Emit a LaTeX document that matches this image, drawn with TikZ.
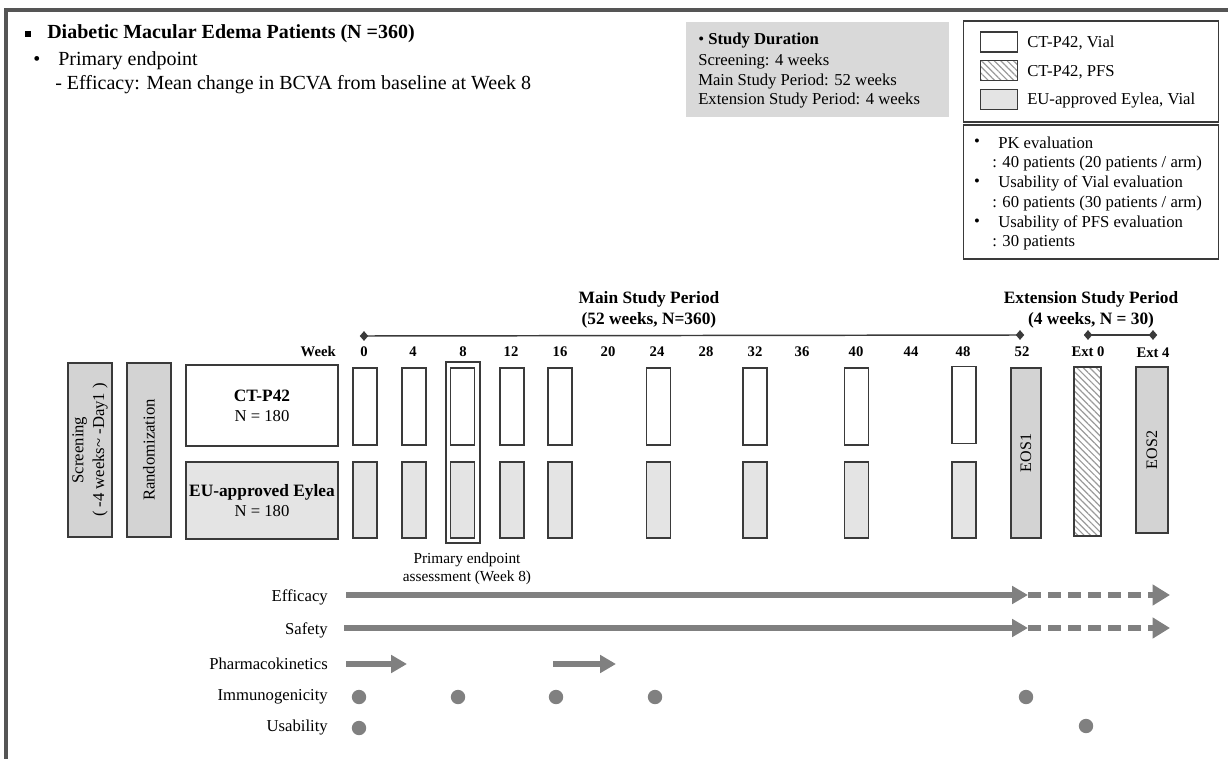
\documentclass[tikz,border=0pt]{standalone}
\usepackage{fontspec}
\setmainfont{Liberation Serif}
\usetikzlibrary{arrows.meta,patterns.meta,shapes.geometric}
\definecolor{framegray}{HTML}{555555}
\definecolor{boxline}{HTML}{3A3A3A}
\definecolor{darkfill}{HTML}{D3D3D3}
\definecolor{lightfill}{HTML}{E4E4E4}
\definecolor{durfill}{HTML}{D9D9D9}
\definecolor{arrowgray}{HTML}{808080}
\definecolor{hatchgray}{HTML}{9A9A9A}
\begin{document}
\begin{tikzpicture}[x=0.75pt,y=-0.75pt,
  txt/.style={font=\fontsize{12.5}{15}\selectfont, inner sep=0pt},
  bigtxt/.style={font=\fontsize{15}{18}\selectfont, inner sep=0pt},
  boldtxt/.style={font=\fontsize{13}{16}\selectfont\bfseries, inner sep=0pt, align=center},
  wk/.style={font=\fontsize{11}{13}\selectfont\bfseries, inner sep=0pt},
  ctbox/.style={draw=boxline, line width=0.8pt, fill=white, minimum width=18pt, minimum height=57.75pt, inner sep=0pt},
  eubox/.style={ctbox, fill=lightfill, minimum height=57pt},
  tallbox/.style={draw=boxline, line width=0.8pt, fill=darkfill, inner sep=0pt},
  armbox/.style={draw=boxline, line width=0.8pt, inner sep=0pt, minimum width=114pt, align=center, font=\fontsize{12.5}{15}\selectfont},
  legsq/.style={draw=boxline, line width=1pt, inner sep=0pt, minimum width=27.75pt, minimum height=15pt},
  hatch/.style={pattern={Lines[angle=-45,distance=3.4pt,line width=0.9pt]}, pattern color=hatchgray},
  dmd/.style={shape=diamond, fill=boxline, inner sep=0pt, minimum width=6.5pt, minimum height=7.5pt},
  tline/.style={draw=boxline, line width=1.1pt},
  arr/.style={draw=arrowgray, line width=4pt, -{Triangle[length=12pt,width=13pt]}},
  darr/.style={arr, dash pattern=on 9.75pt off 5.25pt, -{Triangle[length=13pt,width=15pt]}},
  dot/.style={circle, fill=arrowgray, inner sep=0pt, minimum size=10.8pt},
  lab/.style={txt, anchor=east}
]
\useasboundingbox (0,0) rectangle (1228,759);
% frame
\draw[framegray, line width=2.3pt] (6,759) -- (6,10) -- (1228,10);

% top-left text
\node[fill=black, minimum size=4pt, inner sep=0pt] (sq) at (28,34) {};
\node[bigtxt, anchor=west, font=\fontsize{15}{18}\selectfont\bfseries] (title) at (47,34) {Diabetic Macular Edema Patients (N =360)};
\node[bigtxt] (b1) at (37,61) {\textbullet};
\node[bigtxt, anchor=west] (pe) at (58,61) {Primary endpoint};
\node[bigtxt, anchor=west] (eff) at (55,85) {- Efficacy: Mean change in BCVA from baseline at Week 8};

% study duration
\node[fill=durfill, minimum width=197.25pt, minimum height=71.25pt, inner sep=0pt] (dur) at (817.5,69.5) {};
\node[txt, anchor=west] (d1) at (698,41) {\textbullet\ \textbf{Study Duration}};
\node[txt, anchor=west] (d2) at (698,62) {Screening: 4 weeks};
\node[txt, anchor=west] (d3) at (698,82) {Main Study Period: 52 weeks};
\node[txt, anchor=west] (d4) at (698,101) {Extension Study Period: 4 weeks};

% legend 1
\node[draw=boxline, line width=0.8pt, minimum width=191.25pt, minimum height=75.75pt, inner sep=0pt] (leg1) at (1091,71.5) {};
\node[legsq, fill=white] (ls1) at (999,42) {};
\node[legsq, hatch] (ls2) at (999,70.5) {};
\node[legsq, fill=lightfill] (ls3) at (999,99.5) {};
\node[txt, anchor=west] (lt1) at (1027,43) {CT-P42, Vial};
\node[txt, anchor=west] (lt2) at (1027,72) {CT-P42, PFS};
\node[txt, anchor=west] (lt3) at (1027,101) {EU-approved Eylea, Vial};

% legend 2
\node[draw=boxline, line width=0.8pt, minimum width=191.25pt, minimum height=100.5pt, inner sep=0pt] (leg2) at (1091,192) {};
\node[txt] (pb1) at (977,143) {\textbullet};
\node[txt, anchor=west] (p1) at (998,143) {PK evaluation};
\node[txt, anchor=west] (p2) at (992,163) {: 40 patients (20 patients / arm)};
\node[txt] (pb2) at (977,183) {\textbullet};
\node[txt, anchor=west] (p3) at (998,183) {Usability of Vial evaluation};
\node[txt, anchor=west] (p4) at (992,203) {: 60 patients (30 patients / arm)};
\node[txt] (pb3) at (977,223) {\textbullet};
\node[txt, anchor=west] (p5) at (998,223) {Usability of PFS evaluation};
\node[txt, anchor=west] (p6) at (992,243) {: 30 patients};

% period headers
\node[boldtxt] (mainp) at (649,310) {Main Study Period\\(52 weeks, N=360)};
\node[boldtxt] (extp) at (1091,310) {Extension Study Period\\(4 weeks, N = 30)};
\node[dmd] (dm0) at (364,336) {};
\node[dmd] (dm52) at (1020,335) {};
\draw[tline] (dm0.center) -- (dm52.center);
\node[dmd] (de0) at (1088,335) {};
\node[dmd] (de4) at (1153,335) {};
\draw[tline] (de0.center) -- (de4.center);

% week labels
\node[wk, anchor=east] (wklab) at (336,352) {Week};
\foreach \w/\x in {0/364,4/413,8/463,12/511,16/560,20/608,24/657,28/706,32/755,36/802,40/856,44/911,48/963,52/1022}{
  \node[wk] (w\w) at (\x,352) {\w};
}
\node[wk] (we0) at (1088,352) {Ext 0};
\node[wk] (we4) at (1153,353) {Ext 4};

% left boxes
\node[tallbox, minimum width=33pt, minimum height=130.5pt] (scr) at (90,450) {};
\node[rotate=90, align=center, font=\fontsize{12.5}{15.5}\selectfont] (scrt) at (scr.center) {Screening\\( -4 weeks\textasciitilde{} -Day1 )};
\node[tallbox, minimum width=33pt, minimum height=130.5pt] (rnd) at (149,450) {};
\node[rotate=90, font=\fontsize{12.5}{15}\selectfont] (rndt) at (rnd.center) {Randomization};
\node[armbox, fill=white, minimum height=60.75pt] (ct) at (262,405.5) {\textbf{\fontsize{13}{15}\selectfont CT-P42}\\N = 180};
\node[armbox, fill=lightfill, minimum height=57.75pt] (eu) at (262,500.5) {\textbf{\fontsize{13}{15}\selectfont EU-approved Eylea}\\N = 180};

% visit boxes
\foreach \n/\x in {0/365,4/414,8/462.5,12/512,16/560,24/658.5,32/755,40/856.5}{
  \node[ctbox] (c\n) at (\x,406.5) {};
  \node[eubox] (e\n) at (\x,500) {};
}
\node[ctbox] (c48) at (964,405) {};
\node[eubox] (e48) at (964,500) {};
\node[draw=boxline, line width=1.7pt, minimum width=25.5pt, minimum height=135.75pt, inner sep=0pt] (pf) at (463,452.5) {};
\node[tallbox, minimum width=22.5pt, minimum height=127.5pt] (eos1) at (1026,453) {};
\node[rotate=90, font=\fontsize{12}{14}\selectfont] (eos1t) at (eos1.center) {EOS1};
\node[draw=boxline, line width=0.8pt, inner sep=0pt, minimum width=20.25pt, minimum height=126.75pt, hatch] (ext0) at (1087.5,451.5) {};
\node[tallbox, minimum width=24pt, minimum height=124.5pt] (eos2) at (1152,450) {};
\node[rotate=90, font=\fontsize{12}{14}\selectfont] (eos2t) at (eos2.center) {EOS2};

\node[align=center, font=\fontsize{11.5}{13.5}\selectfont, inner sep=0pt] (pet) at (467,569) {Primary endpoint\\assessment (Week 8)};

% assessments
\node[lab] (lEff) at (328,597) {Efficacy};
\node[lab] (lSaf) at (328,630) {Safety};
\node[lab] (lPK) at (328,664) {Pharmacokinetics};
\node[lab] (lImm) at (328,697) {Immunogenicity};
\node[lab] (lUse) at (328,728) {Usability};

\coordinate (ef0) at (346,595);
\coordinate (ef1) at (1028,595);
\coordinate (ef2) at (1170,595);
\draw[arr] (ef0) -- (ef1);
\draw[darr] (ef1) -- (ef2);
\coordinate (sf0) at (344,628);
\coordinate (sf1) at (1028,628);
\coordinate (sf2) at (1170,628);
\draw[arr] (sf0) -- (sf1);
\draw[darr] (sf1) -- (sf2);
\coordinate (pk0) at (346,664);
\coordinate (pk1) at (407,664);
\coordinate (pk2) at (553,664);
\coordinate (pk3) at (616,664);
\draw[arr] (pk0) -- (pk1);
\draw[arr] (pk2) -- (pk3);

\foreach \i/\x in {1/359,2/458,3/556,4/655,5/1026}{
  \node[dot] (im\i) at (\x,697) {};
}
\node[dot] (us1) at (359,728) {};
\node[dot] (us2) at (1086,726) {};
\end{tikzpicture}
\end{document}
